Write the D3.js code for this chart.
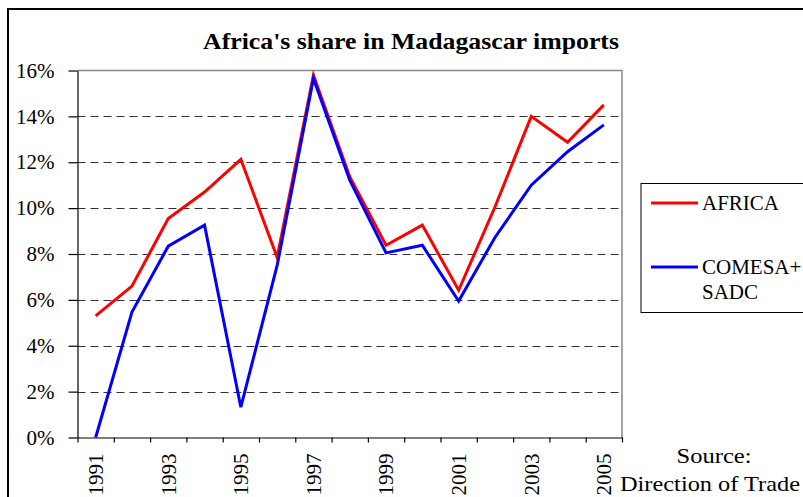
<!DOCTYPE html>
<html>
<head>
<meta charset="utf-8">
<script src="https://cdn.jsdelivr.net/npm/d3@7"></script>
<style>
  body { margin: 0; background: #fff; }
  svg { display: block; }
  svg text { font-family: "Liberation Serif", "Times New Roman", Times, Tinos, serif !important; fill: #000; }
</style>
</head>
<body>
<div id="chart"></div>
<script>
// data (percent)
var years = ["1991", "1992", "1993", "1994", "1995", "1996", "1997", "1998",
             "1999", "2000", "2001", "2002", "2003", "2004", "2005"];
var africa     = [5.3, 6.6, 9.55, 10.7, 12.13, 7.85, 15.8, 11.37, 8.38, 9.26, 6.42, 10.05, 14.0, 12.87, 14.5];
var comesaSadc = [0.0, 5.47, 8.34, 9.26, 1.32, 7.5, 15.65, 11.22, 8.05, 8.38, 5.95, 8.72, 11.0, 12.46, 13.63];
var yTicks = [0, 2, 4, 6, 8, 10, 12, 14, 16];
var xLabels = ["1991", "1993", "1995", "1997", "1999", "2001", "2003", "2005"];
var seriesNames = ["AFRICA", "COMESA+|SADC"];
var seriesColors = ["#ff0000", "#0000ff"];

var W = 803, H = 497;
var plot = {left: 77.5, right: 622, top: 70.5, bottom: 437.5};
var serif = '"Liberation Serif", "Times New Roman", Times, Tinos, serif';

var svg = d3.select("#chart").append("svg")
    .attr("width", W)
    .attr("height", H)
    .style("font-family", serif);

// outer chart border (only top and left visible)
svg.append("rect")
    .attr("x", 8).attr("y", 9)
    .attr("width", 820).attr("height", 520)
    .attr("fill", "none")
    .attr("stroke", "#000")
    .attr("stroke-width", 2);

// scales
var x = d3.scaleBand().domain(years).range([plot.left, plot.right]).padding(0);
var xEdge = d3.scaleLinear().domain([0, years.length]).range([plot.left, plot.right]);
var y = d3.scaleLinear().domain([0, 16]).range([plot.bottom, plot.top]);

// title
svg.append("text")
    .attr("x", 411).attr("y", 49)
    .attr("text-anchor", "middle")
    .attr("font-weight", "bold")
    .attr("font-size", 23)
    .attr("textLength", 416)
    .attr("lengthAdjust", "spacingAndGlyphs")
    .text("Africa's share in Madagascar imports");

// dashed gridlines
svg.append("g").selectAll("line")
    .data(yTicks.filter(function(d) { return d > 0 && d < 16; }))
    .enter().append("line")
    .attr("x1", plot.left).attr("x2", plot.right)
    .attr("y1", function(d) { return Math.round(y(d)) + 0.5; })
    .attr("y2", function(d) { return Math.round(y(d)) + 0.5; })
    .attr("stroke", "#333")
    .attr("stroke-width", 1)
    .attr("stroke-dasharray", "8,5");

// gray plot frame (top + right)
svg.append("path")
    .attr("d", "M" + plot.left + "," + plot.top + "H" + plot.right + "V" + plot.bottom)
    .attr("fill", "none")
    .attr("stroke", "#888")
    .attr("stroke-width", 1.5);

// y axis
var yAxis = svg.append("g")
    .attr("transform", "translate(" + plot.left + ",0)")
    .call(d3.axisLeft(y).tickValues(yTicks).tickSize(9).tickSizeOuter(0).tickPadding(14)
        .tickFormat(function(d) { return d + "%"; }));
yAxis.attr("font-family", null).attr("font-size", null);
yAxis.selectAll("text").attr("font-size", 21).attr("fill", "#000");
yAxis.selectAll("line, path").attr("stroke", "#000").attr("stroke-width", 1.2);

// x axis: ticks between categories
var xAxis = svg.append("g")
    .attr("transform", "translate(0," + plot.bottom + ")")
    .call(d3.axisBottom(xEdge).ticks(years.length).tickSize(5).tickSizeOuter(0)
        .tickFormat(""));
xAxis.selectAll("line, path").attr("stroke", "#000").attr("stroke-width", 1.2);

// rotated year labels
svg.append("g").selectAll("text")
    .data(xLabels)
    .enter().append("text")
    .attr("transform", function(d) {
        return "translate(" + (x(d) + x.bandwidth() / 2) + "," + (plot.bottom + 16) + ") rotate(-90)";
    })
    .attr("dy", "0.35em")
    .attr("text-anchor", "end")
    .attr("font-size", 21)
    .text(function(d) { return d; });

// lines
var line = d3.line()
    .x(function(d, i) { return x(years[i]) + x.bandwidth() / 2; })
    .y(function(d) { return y(d); });

[africa, comesaSadc].forEach(function(s, k) {
    svg.append("path")
        .datum(s)
        .attr("d", line)
        .attr("fill", "none")
        .attr("stroke", seriesColors[k])
        .attr("stroke-width", 3)
        .attr("stroke-linejoin", "miter");
});

// legend
var legend = svg.append("g");
legend.append("rect")
    .attr("x", 641).attr("y", 183.5)
    .attr("width", 200).attr("height", 129)
    .attr("fill", "#fff")
    .attr("stroke", "#000")
    .attr("stroke-width", 1);

var legendY = [203, 267];
seriesNames.forEach(function(name, k) {
    legend.append("line")
        .attr("x1", 651).attr("x2", 698)
        .attr("y1", legendY[k]).attr("y2", legendY[k])
        .attr("stroke", seriesColors[k])
        .attr("stroke-width", 3);
    name.split("|").forEach(function(part, j) {
        legend.append("text")
            .attr("x", 702)
            .attr("y", legendY[k] + 7 + j * 25)
            .attr("font-size", 21)
            .text(part);
    });
});

// source note
svg.append("text")
    .attr("x", 714).attr("y", 463)
    .attr("text-anchor", "middle")
    .attr("font-size", 22)
    .attr("textLength", 75)
    .attr("lengthAdjust", "spacingAndGlyphs")
    .text("Source:");
svg.append("text")
    .attr("x", 710).attr("y", 491)
    .attr("text-anchor", "middle")
    .attr("font-size", 22)
    .attr("textLength", 180)
    .attr("lengthAdjust", "spacingAndGlyphs")
    .text("Direction of Trade");
</script>
</body>
</html>
